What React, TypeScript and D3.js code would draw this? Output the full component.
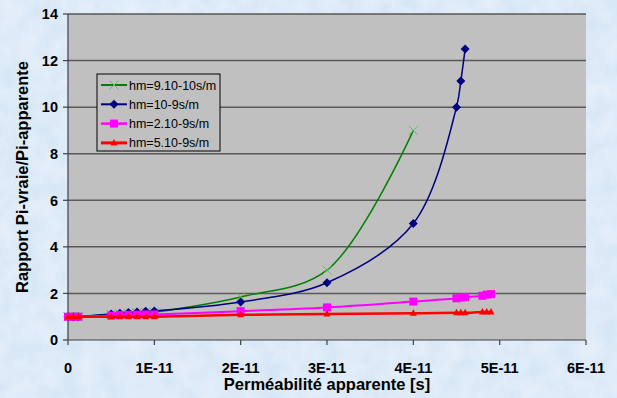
import React from "react";
import * as d3 from "d3";

// x values are in units of 1E-11 s
const xBase = [0, 0.06, 0.12, 0.5, 0.6, 0.7, 0.8, 0.9, 1.0, 2, 3, 4];
const xBlue = [...xBase, 4.5, 4.55, 4.6];
const xLong = [...xBase, 4.5, 4.55, 4.6, 4.8, 4.85, 4.9];

const greenY = [1.0, 1.0, 1.0, 1.1, 1.12, 1.14, 1.16, 1.18, 1.2, 1.85, 3.0, 9.0];
const blueY = [1.0, 1.0, 1.0, 1.12, 1.15, 1.18, 1.2, 1.23, 1.25, 1.63, 2.46, 5.0, 10.0, 11.12, 12.5];
const pinkY = [1.0, 1.0, 1.0, 1.05, 1.07, 1.08, 1.09, 1.1, 1.1, 1.24, 1.4, 1.65, 1.79, 1.82, 1.84, 1.9, 1.95, 1.97];
const redY = [1.0, 1.0, 1.0, 1.0, 1.0, 1.0, 1.0, 1.0, 1.0, 1.08, 1.12, 1.15, 1.17, 1.17, 1.17, 1.2, 1.2, 1.2];

const seriesNames = ["hm=9.10-10s/m", "hm=10-9s/m", "hm=2.10-9s/m", "hm=5.10-9s/m"];
const xTicks = [0, 1, 2, 3, 4, 5, 6];
const yTicks = [0, 2, 4, 6, 8, 10, 12, 14];

const W = 617;
const H = 398;
const left = 68, right = 586, top = 14, bottom = 340;

const x = d3.scaleLinear().domain([0, 6]).range([left, right]);
const y = d3.scaleLinear().domain([0, 14]).range([bottom, top]);

const line = d3
  .line<[number, number]>()
  .x(d => x(d[0]))
  .y(d => y(d[1]))
  .curve(d3.curveCatmullRom.alpha(0.5));

const series = [
  { name: seriesNames[0], xs: xBase, ys: greenY, color: "#008000", mark: "x", width: 1.5 },
  { name: seriesNames[1], xs: xBlue, ys: blueY, color: "#000080", mark: "diamond", width: 1.5 },
  { name: seriesNames[2], xs: xLong, ys: pinkY, color: "#ff00ff", mark: "square", width: 2 },
  { name: seriesNames[3], xs: xLong, ys: redY, color: "#ff0000", mark: "triangle", width: 2.5 },
];

const Marker = ({ kind, cx, cy, color }: { kind: string; cx: number; cy: number; color: string }) => {
  if (kind === "x") {
    return (
      <g stroke="#66bb66" strokeWidth={1}>
        <line x1={cx - 4.5} y1={cy - 4.5} x2={cx + 4.5} y2={cy + 4.5} />
        <line x1={cx - 4.5} y1={cy + 4.5} x2={cx + 4.5} y2={cy - 4.5} />
      </g>
    );
  }
  if (kind === "diamond") {
    return <path d={`M${cx},${cy - 4.5}L${cx + 4.5},${cy}L${cx},${cy + 4.5}L${cx - 4.5},${cy}Z`} fill={color} />;
  }
  if (kind === "square") {
    return <rect x={cx - 4} y={cy - 4} width={8} height={8} fill={color} />;
  }
  return <path d={`M${cx},${cy - 4}L${cx + 3.5},${cy + 2.5}L${cx - 3.5},${cy + 2.5}Z`} fill={color} />;
};

export default function App() {
  const font = "Arial, 'Liberation Sans', sans-serif";
  return (
    <div style={{ position: "absolute", left: 0, top: 0 }}>
      <svg width={W} height={H} style={{ display: "block" }} fontFamily={font}>
        <defs>
          <filter id="mottle" x="0" y="0" width="100%" height="100%">
            <feTurbulence type="fractalNoise" baseFrequency="0.05" numOctaves={3} seed={4} />
            <feColorMatrix type="matrix" values="0 0 0 0 1  0 0 0 0 1  0 0 0 0 1  0 0 0 -1.2 1.0" />
          </filter>
        </defs>
        <rect width={W} height={H} fill="#d6e6f6" />
        <rect width={W} height={H} filter="url(#mottle)" opacity={0.45} />

        {/* plot area */}
        <rect x={left} y={top} width={right - left} height={bottom - top} fill="#c0c0c0" />
        {yTicks.filter(t => t > 0).map(t => (
          <line key={t} x1={left} x2={right} y1={y(t)} y2={y(t)} stroke="#595959" strokeWidth={1.5} />
        ))}

        {/* axes */}
        <line x1={left} x2={left} y1={top} y2={bottom} stroke="#404040" strokeWidth={1.2} />
        <line x1={left} x2={right} y1={bottom} y2={bottom} stroke="#404040" strokeWidth={1.2} />
        {yTicks.map(t => (
          <g key={t}>
            <line x1={left - 5} x2={left} y1={y(t)} y2={y(t)} stroke="#404040" strokeWidth={1.2} />
            <text x={left - 10} y={y(t)} dy="0.36em" textAnchor="end" fontSize={14.5} fontWeight="bold" fill="#000">
              {t}
            </text>
          </g>
        ))}
        {xTicks.map(t => (
          <g key={t}>
            <line x1={x(t)} x2={x(t)} y1={bottom} y2={bottom + 5} stroke="#404040" strokeWidth={1.2} />
            <text x={x(t)} y={373} textAnchor="middle" fontSize={14.5} fontWeight="bold" fill="#000">
              {t === 0 ? "0" : `${t}E-11`}
            </text>
          </g>
        ))}

        {/* series */}
        {series.map(s => {
          const pts = s.xs.map((v, i) => [v, s.ys[i]] as [number, number]);
          return (
            <g key={s.name}>
              <path d={line(pts) ?? ""} fill="none" stroke={s.color} strokeWidth={s.width} />
              {pts.map((p, i) => (
                <Marker key={i} kind={s.mark} cx={x(p[0])} cy={y(p[1])} color={s.color} />
              ))}
            </g>
          );
        })}

        {/* legend */}
        <rect x={97} y={74} width={123} height={77} fill="#c0c0c0" stroke="#000" strokeWidth={1} />
        {series.map((s, i) => {
          const ly = 85 + i * 19.3;
          return (
            <g key={s.name}>
              <line x1={101} x2={127} y1={ly} y2={ly} stroke={s.color} strokeWidth={s.width + 0.5} />
              <Marker kind={s.mark} cx={114} cy={ly} color={s.color} />
              <text x={129} y={ly} dy="0.36em" fontSize={12.5} fill="#000">
                {s.name}
              </text>
            </g>
          );
        })}

        {/* titles */}
        <text x={327} y={390} textAnchor="middle" fontSize={16.5} fontWeight="bold" fill="#000">
          Perméabilité apparente [s]
        </text>
        <text
          transform={`translate(28,${(top + bottom) / 2}) rotate(-90)`}
          textAnchor="middle"
          fontSize={16.5}
          fontWeight="bold"
          fill="#000"
        >
          Rapport Pi-vraie/Pi-apparente
        </text>
      </svg>
    </div>
  );
}
